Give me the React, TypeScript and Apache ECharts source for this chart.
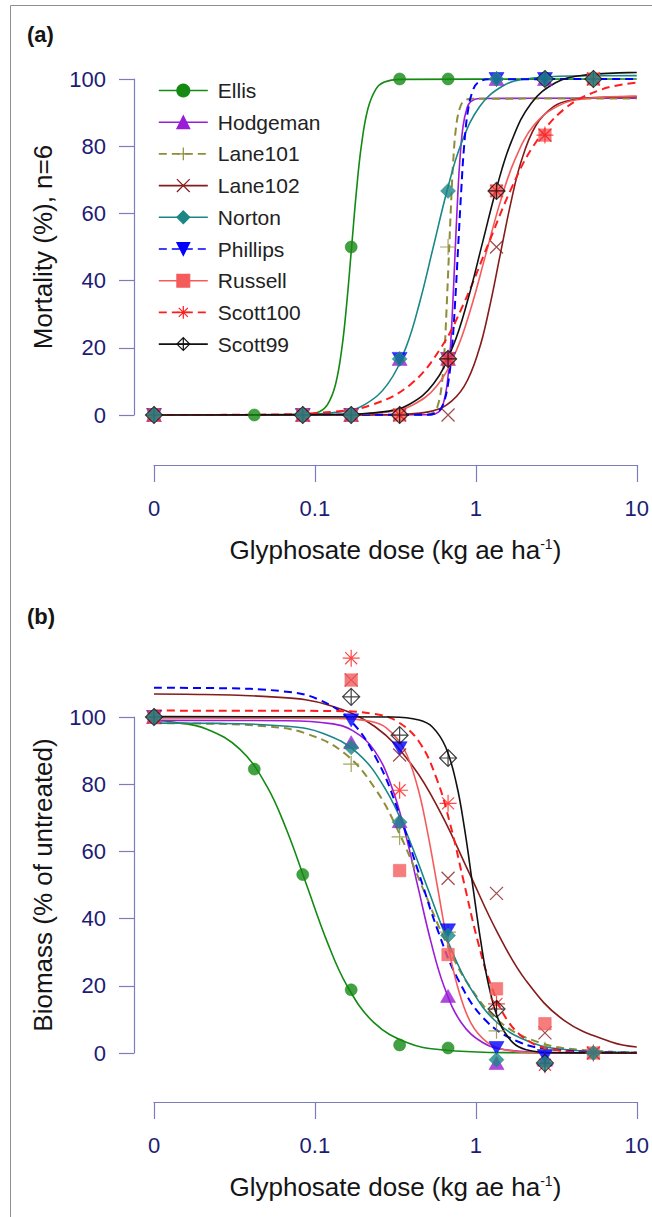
import React, { useEffect, useRef } from "react";
import * as echarts from "echarts";

// ---------- data ----------
const POPULATIONS = ["Ellis", "Hodgeman", "Lane101", "Lane102", "Norton", "Phillips", "Russell", "Scott100", "Scott99"];
const DOSES = [0, 0.042, 0.084, 0.168, 0.336, 0.672, 1.344, 2.688, 5.376]; // kg ae/ha
const ZERO_DOSE_AT = 0.01; // the untreated control is drawn at the axis origin
const X_TICK_LABELS = ["0", "0.1", "1", "10"];

// (a) mortality (%), n = 6, one value per dose (null = not tested)
const MORT_ELLIS = [0, 0, 0, 50, 100, 100, null, null, null];
const MORT_HODGEMAN = [0, null, 0, 0, 16.7, 16.7, 100, 100, null];
const MORT_LANE101 = [0, null, 0, 0, 0, 50, 100, 100, null];
const MORT_LANE102 = [0, null, 0, 0, 0, 0, 50, 83.3, 100];
const MORT_NORTON = [0, null, 0, 0, 16.7, 66.7, 100, 100, 100];
const MORT_PHILLIPS = [0, null, 0, 0, 16.7, 16.7, 100, 100, null];
const MORT_RUSSELL = [0, null, 0, 0, 0, 16.7, 66.7, 83.3, 100];
const MORT_SCOTT100 = [0, null, 0, 0, 0, 16.7, 66.7, 83.3, 100];
const MORT_SCOTT99 = [0, null, 0, 0, 0, 16.7, 66.7, 100, 100];

// (b) biomass (% of untreated)
const BIOM_ELLIS = [100, 84.5, 53.1, 18.8, 2.4, 1.5, null, null, null];
const BIOM_HODGEMAN = [100, null, null, 92.5, 69, 17, -3, -2, null];
const BIOM_LANE101 = [100, null, null, 86, 64.3, 36, 6.6, 1, null];
const BIOM_LANE102 = [100, null, null, 111, 88.7, 52, 47.5, 6, 0];
const BIOM_NORTON = [100, null, null, 91, 68.7, 35, -2, -3, 0];
const BIOM_PHILLIPS = [100, null, null, 99, 90.7, 36.5, 1.5, -1, null];
const BIOM_RUSSELL = [100, null, null, 111, 54.3, 29.3, 19.1, 8.7, 0];
const BIOM_SCOTT100 = [100, null, null, 117.5, 78.2, 74.3, 14.6, -3.5, 0];
const BIOM_SCOTT99 = [100, null, null, 106, 94.6, 87.8, 13.1, -3, null];

// fitted curves: [log10(dose), value]
const FIT_A_ELLIS = [[-2, 0], [-1.072, 0.1], [-0.972, 0.99], [-0.922, 3.07], [-0.872, 9.09], [-0.832, 20.08], [-0.802, 33.39], [-0.772, 50], [-0.742, 66.61], [-0.712, 79.92], [-0.672, 90.91], [-0.622, 96.93], [-0.572, 99.01], [-0.472, 99.9], [1, 100]];
const FIT_A_HODGEMAN = [[-2, 0], [-0.28, 0.09], [-0.23, 0.93], [-0.205, 2.9], [-0.18, 8.57], [-0.16, 18.94], [-0.145, 31.49], [-0.13, 47.15], [-0.115, 62.81], [-0.1, 75.36], [-0.08, 85.73], [-0.055, 91.4], [-0.03, 93.37], [0.02, 94.21], [1, 94.3]];
const FIT_A_LANE101 = [[-2, 0], [-0.304, 0.09], [-0.259, 0.93], [-0.236, 2.89], [-0.213, 8.56], [-0.195, 18.92], [-0.182, 31.45], [-0.168, 47.1], [-0.154, 62.75], [-0.141, 75.28], [-0.123, 85.64], [-0.1, 91.31], [-0.077, 93.27], [-0.032, 94.11], [1, 94.2]];
const FIT_A_LANE102 = [[-2, 0], [-0.517, 0.09], [-0.294, 0.94], [-0.183, 2.91], [-0.072, 8.61], [0.017, 19.02], [0.083, 31.62], [0.15, 47.35], [0.217, 63.08], [0.283, 75.68], [0.372, 86.09], [0.483, 91.79], [0.594, 93.76], [0.817, 94.6], [1, 94.7]];
const FIT_A_NORTON = [[-2, 0], [-1.119, 0.1], [-0.833, 1.0], [-0.691, 3.1], [-0.548, 9.18], [-0.433, 20.28], [-0.348, 33.72], [-0.262, 50.5], [-0.176, 67.28], [-0.091, 80.72], [0.024, 91.82], [0.167, 97.9], [0.309, 100.0], [0.595, 100.9], [1, 101]];
const FIT_A_PHILLIPS = [[-2, 0], [-0.298, 0.1], [-0.235, 0.99], [-0.204, 3.07], [-0.173, 9.09], [-0.148, 20.08], [-0.129, 33.39], [-0.11, 50], [-0.091, 66.61], [-0.073, 79.92], [-0.048, 90.91], [-0.016, 96.93], [0.015, 99.01], [0.078, 99.9], [1, 100]];
const FIT_A_RUSSELL = [[-2, 0], [-0.849, 0.09], [-0.546, 0.94], [-0.395, 2.92], [-0.243, 8.64], [-0.122, 19.08], [-0.031, 31.72], [0.06, 47.5], [0.151, 63.28], [0.242, 75.92], [0.363, 86.36], [0.515, 92.08], [0.666, 94.06], [0.969, 94.9], [1, 94.92]];
const FIT_A_SCOTT100 = [[-2, 0], [-1.359, 0.1], [-0.882, 0.99], [-0.644, 3.07], [-0.406, 9.09], [-0.216, 20.08], [-0.073, 33.39], [0.07, 50], [0.213, 66.61], [0.356, 79.92], [0.546, 90.91], [0.784, 96.93], [1, 98.9]];
const FIT_A_SCOTT99 = [[-2, 0], [-0.869, 0.1], [-0.566, 1.01], [-0.415, 3.13], [-0.263, 9.27], [-0.142, 20.48], [-0.051, 34.06], [0.04, 51], [0.131, 67.94], [0.222, 81.52], [0.343, 92.73], [0.495, 98.87], [0.646, 100.99], [0.949, 101.9], [1, 101.93]];

const FIT_B_ELLIS = [[-2, 98.98], [-1.883, 98.51], [-1.675, 96.45], [-1.467, 90.45], [-1.3, 79.52], [-1.175, 66.28], [-1.05, 49.75], [-0.925, 33.22], [-0.8, 19.98], [-0.633, 9.04], [-0.425, 3.05], [-0.217, 0.99], [0.2, 0.1], [1, 0]];
const FIT_B_HODGEMAN = [[-2, 99], [-1.171, 98.9], [-0.901, 98.02], [-0.765, 95.96], [-0.63, 90.0], [-0.522, 79.12], [-0.441, 65.94], [-0.36, 49.5], [-0.279, 33.06], [-0.198, 19.88], [-0.09, 9.0], [0.045, 3.04], [0.181, 0.98], [0.451, 0.1], [1, 0]];
const FIT_B_LANE101 = [[-2, 98.16], [-1.793, 98.1], [-1.306, 97.23], [-1.062, 95.19], [-0.818, 89.27], [-0.623, 78.48], [-0.476, 65.41], [-0.33, 49.1], [-0.184, 32.79], [-0.037, 19.72], [0.158, 8.93], [0.402, 3.01], [0.646, 0.97], [1, 0.18]];
const FIT_B_LANE102 = [[-2, 106.85], [-1.805, 106.79], [-1.216, 105.84], [-0.922, 103.62], [-0.628, 97.18], [-0.393, 85.43], [-0.216, 71.21], [-0.04, 53.45], [0.136, 35.69], [0.313, 21.47], [0.548, 9.72], [0.842, 3.28], [1, 1.8]];
const FIT_B_NORTON = [[-2, 98.19], [-1.604, 98.1], [-1.17, 97.23], [-0.952, 95.19], [-0.735, 89.27], [-0.561, 78.48], [-0.43, 65.41], [-0.3, 49.1], [-0.17, 32.79], [-0.039, 19.72], [0.135, 8.93], [0.352, 3.01], [0.57, 0.97], [1, 0.1]];
const FIT_B_PHILLIPS = [[-2, 108.69], [-1.61, 108.59], [-1.193, 107.62], [-0.985, 105.36], [-0.777, 98.82], [-0.61, 86.87], [-0.485, 72.41], [-0.36, 54.35], [-0.235, 36.29], [-0.11, 21.83], [0.057, 9.88], [0.265, 3.34], [0.473, 1.08], [0.89, 0.11], [1, 0.06]];
const FIT_B_RUSSELL = [[-2, 99.7], [-0.865, 99.6], [-0.657, 98.71], [-0.553, 96.64], [-0.448, 90.64], [-0.365, 79.68], [-0.303, 66.41], [-0.24, 49.85], [-0.178, 33.29], [-0.115, 20.02], [-0.032, 9.06], [0.073, 3.06], [0.177, 0.99], [0.385, 0.1], [1, 0]];
const FIT_B_SCOTT100 = [[-2, 101.9], [-0.908, 101.8], [-0.631, 100.89], [-0.492, 98.77], [-0.353, 92.64], [-0.242, 81.44], [-0.158, 67.88], [-0.075, 50.95], [0.008, 34.02], [0.092, 20.46], [0.203, 9.26], [0.342, 3.13], [0.481, 1.01], [0.758, 0.1], [1, 0]];
const FIT_B_SCOTT99 = [[-2, 100.1], [-0.52, 100.0], [-0.353, 99.11], [-0.27, 97.03], [-0.187, 91.0], [-0.12, 80.0], [-0.07, 66.68], [-0.02, 50.05], [0.03, 33.42], [0.08, 20.1], [0.147, 9.1], [0.23, 3.07], [0.313, 0.99], [0.48, 0.1], [1, 0]];

const PANEL_A_POINTS = [MORT_ELLIS, MORT_HODGEMAN, MORT_LANE101, MORT_LANE102, MORT_NORTON, MORT_PHILLIPS, MORT_RUSSELL, MORT_SCOTT100, MORT_SCOTT99];
const PANEL_B_POINTS = [BIOM_ELLIS, BIOM_HODGEMAN, BIOM_LANE101, BIOM_LANE102, BIOM_NORTON, BIOM_PHILLIPS, BIOM_RUSSELL, BIOM_SCOTT100, BIOM_SCOTT99];
const PANEL_A_FITS = [FIT_A_ELLIS, FIT_A_HODGEMAN, FIT_A_LANE101, FIT_A_LANE102, FIT_A_NORTON, FIT_A_PHILLIPS, FIT_A_RUSSELL, FIT_A_SCOTT100, FIT_A_SCOTT99];
const PANEL_B_FITS = [FIT_B_ELLIS, FIT_B_HODGEMAN, FIT_B_LANE101, FIT_B_LANE102, FIT_B_NORTON, FIT_B_PHILLIPS, FIT_B_RUSSELL, FIT_B_SCOTT100, FIT_B_SCOTT99];

// ---------- styles ----------
const FONT = '"Liberation Sans", Arial, Helvetica, sans-serif';
const AXIS_COLOR = "#7c7cbc";
const LABEL_COLOR = "#1c1c74";
const TEXT_COLOR = "#151515";

const SYMBOLS: Record<string, string> = {
  circle: "circle",
  up: "path://M10,0L20,17L0,17Z",
  down: "path://M0,0L20,0L10,17Z",
  plus: "path://M10,0L10,20M0,10L20,10",
  cross: "path://M0,0L20,20M20,0L0,20",
  diamond: "path://M10,0L20,10L10,20L0,10Z",
  square: "rect",
  star: "path://M10,0L10,20M0,10L20,10M2.93,2.93L17.07,17.07M17.07,2.93L2.93,17.07",
  diamondPlus: "path://M10,0L20,10L10,20L0,10Z M10,0L10,20M0,10L20,10",
};

type PopStyle = { color: string; dash: boolean; symbol: string; size: number | number[]; filled: boolean; top?: boolean };
const POP_STYLE: Record<string, PopStyle> = {
  Ellis: { color: "#148a14", dash: false, symbol: "circle", size: 12, filled: true },
  Hodgeman: { color: "#9a1cd6", dash: false, symbol: "up", size: [15, 13], filled: true },
  Lane101: { color: "#8d8d3a", dash: true, symbol: "plus", size: 16, filled: false },
  Lane102: { color: "#861b1b", dash: false, symbol: "cross", size: 13, filled: false },
  Norton: { color: "#1b8686", dash: false, symbol: "diamond", size: 15, filled: true, top: true },
  Phillips: { color: "#0000ff", dash: true, symbol: "down", size: [15, 13], filled: true },
  Russell: { color: "#f45c5c", dash: false, symbol: "square", size: 12.5, filled: true },
  Scott100: { color: "#ff1c1c", dash: true, symbol: "star", size: 17, filled: false },
  Scott99: { color: "#111111", dash: false, symbol: "diamondPlus", size: 17, filled: false },
};

function itemStyleOf(s: PopStyle) {
  return s.filled
    ? { color: s.color, borderColor: s.color, borderWidth: 0.6 }
    : { color: "rgba(0,0,0,0)", borderColor: s.color, borderWidth: 1.2 };
}

function buildOption() {
  const series: any[] = [];
  const panels = [
    { fits: PANEL_A_FITS, points: PANEL_A_POINTS },
    { fits: PANEL_B_FITS, points: PANEL_B_POINTS },
  ];
  // curves first (panel a curves provide the legend icons)
  panels.forEach((p, pi) => {
    POPULATIONS.forEach((name, i) => {
      const s = POP_STYLE[name];
      series.push({
        name,
        type: "line",
        xAxisIndex: pi,
        yAxisIndex: pi,
        data: p.fits[i].map(([lx, v]) => [Math.pow(10, lx), v]),
        showSymbol: false,
        symbol: SYMBOLS[s.symbol],
        symbolSize: s.size,
        itemStyle: itemStyleOf(s),
        lineStyle: { color: s.color, width: s.dash ? 2 : 1.6, type: s.dash ? [8, 5] : "solid" },
        smooth: 0.4,
        clip: false,
        silent: true,
        z: 2,
        emphasis: { disabled: true },
      });
    });
  });
  panels.forEach((p, pi) => {
    POPULATIONS.forEach((name, i) => {
      const s = POP_STYLE[name];
      const data: number[][] = [];
      DOSES.forEach((d, k) => {
        const v = p.points[i][k];
        if (v !== null && v !== undefined) data.push([d === 0 ? ZERO_DOSE_AT : d, v]);
      });
      series.push({
        name,
        type: "scatter",
        xAxisIndex: pi,
        yAxisIndex: pi,
        data,
        symbol: SYMBOLS[s.symbol],
        symbolSize: s.size,
        itemStyle: itemStyleOf(s),
        clip: false,
        silent: true,
        z: s.top ? 4 : 3,
        emphasis: { disabled: true },
      });
    });
  });

  const xAxisBase = (gi: number) => ({
    type: "log",
    logBase: 10,
    gridIndex: gi,
    min: 0.01,
    max: 10,
    position: "bottom",
    offset: gi === 0 ? 50 : 49,
    axisLine: { show: true, onZero: false, lineStyle: { color: AXIS_COLOR, width: 1.2 } },
    axisTick: { show: true, length: 17, lineStyle: { color: AXIS_COLOR, width: 1.2 } },
    minorTick: { show: false },
    splitLine: { show: false },
    axisLabel: {
      color: LABEL_COLOR,
      fontSize: 22,
      fontFamily: FONT,
      margin: 32,
      showMinLabel: true,
      showMaxLabel: true,
      formatter: (v: number) => X_TICK_LABELS[Math.round(Math.log10(v)) + 2] ?? "",
    },
    name: "Glyphosate dose (kg ae ha{sup|-1})",
    nameLocation: "middle",
    nameGap: 72,
    nameTextStyle: {
      fontSize: 26,
      color: TEXT_COLOR,
      fontFamily: FONT,
      rich: { sup: { fontSize: 14, verticalAlign: "top", color: TEXT_COLOR, fontFamily: FONT, padding: [0, 0, 12, 0] } },
    },
  });

  const yAxisBase = (gi: number, title: string) => ({
    type: "value",
    gridIndex: gi,
    min: 0,
    max: 100,
    interval: 20,
    offset: 20,
    axisLine: { show: true, lineStyle: { color: AXIS_COLOR, width: 1.2 } },
    axisTick: { show: true, length: 15, lineStyle: { color: AXIS_COLOR, width: 1.2 } },
    splitLine: { show: false },
    axisLabel: { color: LABEL_COLOR, fontSize: 22, fontFamily: FONT, margin: 28 },
    name: title,
    nameLocation: "middle",
    nameGap: 78,
    nameTextStyle: { fontSize: 26, color: TEXT_COLOR, fontFamily: FONT },
  });

  return {
    animation: false,
    backgroundColor: "#ffffff",
    textStyle: { fontFamily: FONT },
    title: [
      { text: "(a)", left: 22, top: 18, textStyle: { fontSize: 22, fontWeight: "bold", color: TEXT_COLOR, fontFamily: FONT } },
      { text: "(b)", left: 22, top: 600, textStyle: { fontSize: 22, fontWeight: "bold", color: TEXT_COLOR, fontFamily: FONT } },
    ],
    graphic: [
      { type: "rect", silent: true, z: -10, shape: { x: 10.5, y: 5.5, width: 900, height: 1400 }, style: { fill: "none", stroke: "#8e8e8e", lineWidth: 1 } },
    ],
    legend: {
      orient: "vertical",
      left: 158,
      top: 80,
      padding: 0,
      itemWidth: 49,
      itemHeight: 16,
      itemGap: 10.7,
      selectedMode: false,
      data: POPULATIONS,
      itemStyle: { borderWidth: 1.2 },
      lineStyle: { width: 1.6 },
      textStyle: { fontSize: 21, color: "#222222", fontFamily: FONT, padding: [0, 0, 0, 5] },
    },
    grid: [
      { left: 154, top: 79, width: 485, height: 336 },
      { left: 154, top: 717, width: 485, height: 336 },
    ],
    xAxis: [xAxisBase(0), xAxisBase(1)],
    yAxis: [yAxisBase(0, "Mortality (%), n=6"), yAxisBase(1, "Biomass (% of untreated)")],
    series,
  };
}

export default function App() {
  const ref = useRef<HTMLDivElement>(null);
  useEffect(() => {
    document.body.style.margin = "0";
    if (!ref.current) return;
    const chart = echarts.init(ref.current, undefined, { renderer: "svg" });
    chart.setOption(buildOption() as any);
    return () => chart.dispose();
  }, []);
  return <div ref={ref} style={{ width: 652, height: 1217 }} />;
}
